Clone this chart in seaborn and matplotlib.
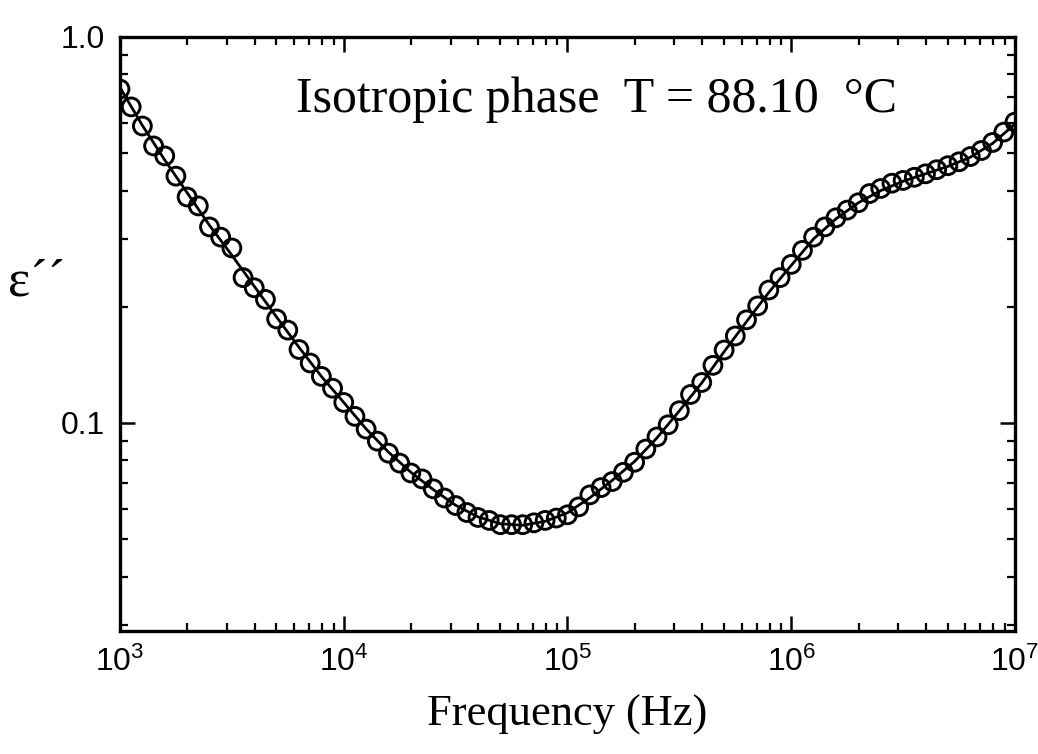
import numpy as np
import pandas as pd
import matplotlib
matplotlib.use("Agg")
import matplotlib.pyplot as plt
import matplotlib.ticker as mticker
import seaborn as sns

# ---- data ----
freq_hz = [1000, 1122, 1259, 1413, 1585, 1778, 1995, 2239, 2512, 2818,
           3162, 3548, 3981, 4467, 5012, 5623, 6310, 7079, 7943, 8913,
           10000, 11220, 12590, 14130, 15850, 17780, 19950, 22390, 25120, 28180,
           31620, 35480, 39810, 44670, 50120, 56230, 63100, 70790, 79430, 89130,
           100000, 112200, 125900, 141300, 158500, 177800, 199500, 223900, 251200, 281800,
           316200, 354800, 398100, 446700, 501200, 562300, 631000, 707900, 794300, 891300,
           1000000, 1122000, 1259000, 1413000, 1585000, 1778000, 1995000, 2239000, 2512000, 2818000,
           3162000, 3548000, 3981000, 4467000, 5012000, 5623000, 6310000, 7079000, 7943000, 8913000,
           10000000]
eps_loss = [0.733, 0.659, 0.588, 0.522, 0.492, 0.436, 0.385, 0.365, 0.322, 0.303,
            0.284, 0.238, 0.224, 0.209, 0.186, 0.174, 0.155, 0.143, 0.132, 0.123,
            0.113, 0.104, 0.0964, 0.0897, 0.0835, 0.0787, 0.0742, 0.0716, 0.0675, 0.0639,
            0.0611, 0.0586, 0.0569, 0.0559, 0.0545, 0.0545, 0.0545, 0.0551, 0.0559, 0.0567,
            0.0578, 0.0606, 0.0651, 0.0680, 0.0705, 0.0745, 0.0791, 0.0856, 0.0920, 0.0989,
            0.1076, 0.1185, 0.1273, 0.141, 0.1545, 0.168, 0.185, 0.201, 0.221, 0.238,
            0.2575, 0.280, 0.303, 0.322, 0.340, 0.356, 0.372, 0.393, 0.405, 0.418,
            0.425, 0.433, 0.442, 0.453, 0.464, 0.475, 0.490, 0.508, 0.533, 0.567,
            0.602]

fit_freq_hz = [1000, 1259, 1585, 1995, 2512, 3162, 3981, 5012, 6310, 7943,
               10000, 12590, 15850, 19950, 25120, 31620, 39810, 50120, 63100, 79430,
               100000, 125900, 158500, 199500, 251200, 316200, 398100, 501200, 631000, 794300,
               1000000, 1259000, 1585000, 1995000, 2512000, 3162000, 3981000, 5012000, 6310000, 7943000,
               10000000]
fit_eps = [0.74, 0.59, 0.48, 0.395, 0.325, 0.272, 0.226, 0.188, 0.157, 0.132,
           0.113, 0.0965, 0.084, 0.0745, 0.0672, 0.0612, 0.0571, 0.0548, 0.0543, 0.0556,
           0.0585, 0.0640, 0.0710, 0.0795, 0.0915, 0.1075, 0.127, 0.153, 0.183, 0.218,
           0.256, 0.300, 0.338, 0.372, 0.400, 0.423, 0.442, 0.462, 0.488, 0.530,
           0.595]

annotation = "Isotropic phase  T = 88.10  \u00b0C"
x_label = "Frequency (Hz)"
y_label = "\u03b5\u00b4\u00b4"
y_tick_values = [0.1, 1.0]
y_tick_labels = ["0.1", "1.0"]

df_pts = pd.DataFrame({"f": freq_hz, "e": eps_loss})
df_fit = pd.DataFrame({"f": fit_freq_hz, "e": fit_eps})

sns.set_theme(style="ticks")
plt.rcParams["font.family"] = ["Liberation Sans", "DejaVu Sans"]
plt.rcParams["mathtext.fontset"] = "custom"
plt.rcParams["mathtext.rm"] = "Liberation Sans"
plt.rcParams["mathtext.it"] = "Liberation Sans:italic"
plt.rcParams["mathtext.bf"] = "Liberation Sans:bold"
plt.rcParams["text.color"] = "black"
plt.rcParams["xtick.color"] = "black"
plt.rcParams["ytick.color"] = "black"
plt.rcParams["xtick.labelcolor"] = "black"
plt.rcParams["ytick.labelcolor"] = "black"
plt.rcParams["axes.labelcolor"] = "black"

W, H = 1038, 754
fig = plt.figure(figsize=(W / 100, H / 100), dpi=100)
ax = fig.add_axes([120 / W, 1 - 631 / H, (1015 - 120) / W, (631 - 37) / H])

sns.lineplot(data=df_fit, x="f", y="e", ax=ax, color="black", linewidth=2.0, sort=True)
sns.scatterplot(data=df_pts, x="f", y="e", ax=ax, s=165, facecolors="none",
                edgecolor="black", linewidth=2.1, zorder=3)

ax.set_xscale("log")
ax.set_yscale("log")
ax.set_xlim(1e3, 1e7)
ax.set_ylim(0.0289, 1.0)

ax.xaxis.set_major_locator(mticker.LogLocator(base=10, numticks=10))
ax.xaxis.set_major_formatter(mticker.LogFormatterSciNotation())
ax.xaxis.set_minor_locator(mticker.LogLocator(base=10, subs=np.arange(2, 10), numticks=20))
ax.xaxis.set_minor_formatter(mticker.NullFormatter())
ax.yaxis.set_major_locator(mticker.FixedLocator(y_tick_values))
ax.yaxis.set_major_formatter(mticker.FixedFormatter(y_tick_labels))
ax.yaxis.set_minor_locator(mticker.LogLocator(base=10, subs=np.arange(2, 10), numticks=20))
ax.yaxis.set_minor_formatter(mticker.NullFormatter())

for s in ax.spines.values():
    s.set_linewidth(2.4)
    s.set_color("black")
ax.tick_params(which="both", direction="in", top=True, right=True, color="black")
ax.tick_params(which="major", length=11, width=1.8, labelsize=23, pad=11)
ax.tick_params(which="minor", length=6, width=1.6)

ax.set_xlabel(x_label, family="Liberation Serif", fontsize=32, labelpad=12)
ax.set_ylabel(y_label, family="Liberation Serif", fontsize=38, rotation=0, ha="left", va="center")
ax.yaxis.set_label_coords((8 - 120) / (1015 - 120), (631 - 283) / (631 - 37))

ax.text((596 - 120) / (1015 - 120), (631 - 100) / (631 - 37), annotation,
        transform=ax.transAxes, family="Liberation Serif", fontsize=36,
        ha="center", va="center", color="black")

fig.savefig("out.png", dpi=100)
